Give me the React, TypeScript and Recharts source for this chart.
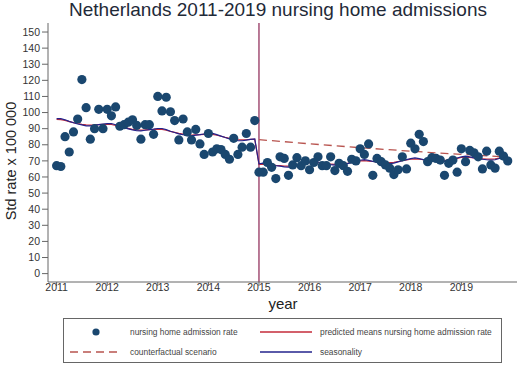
import { ComposedChart, Scatter, Line, XAxis, YAxis, ReferenceLine } from "recharts";

const FONT = '"Liberation Sans", Arial, Helvetica, sans-serif';

const YEAR_TICKS = [2011, 2012, 2013, 2014, 2015, 2016, 2017, 2018, 2019];
const RATE_TICKS = [0, 10, 20, 30, 40, 50, 60, 70, 80, 90, 100, 110, 120, 130, 140, 150];

// monthly, Jan 2011 .. Dec 2019
const admissionRate = [
  67, 66.5, 85, 75.5, 88, 96, 120.5, 103, 83.5, 90, 102, 90,
  102, 98, 103.5, 91.5, 92.5, 94, 95.5, 92, 83.5, 92.5, 92.5, 86.5,
  110, 101, 109.5, 100.5, 95, 83, 96, 88, 83, 89.5, 80.5, 74,
  87, 75.5, 77.5, 77, 74, 71, 84, 74, 78.5, 87, 78.5, 95,
  63, 63, 69, 66, 59, 72.5, 71.5, 61, 67.5, 72, 67, 70,
  64.5, 69, 72.5, 67, 67, 72.5, 64, 68.5, 67, 63.5, 71, 70,
  77.5, 74, 80.5, 61, 71.5, 69.5, 67.5, 65.5, 61.5, 64.5, 72.5, 65,
  81, 77.5, 86.5, 82, 69.5, 72, 71.5, 70.5, 61, 68.5, 70.5, 63,
  77.5, 69.5, 76.5, 75, 72.5, 65, 76, 67.5, 65.5, 76, 73, 70,
];

const predictedMeans = [
  95.8, 95.6, 95.1, 94.4, 93.8, 93.2, 92.7, 92.3, 92.2, 92.3, 92.5, 92.6,
  92.7, 92.6, 92.0, 91.4, 90.7, 90.2, 89.6, 89.3, 89.1, 89.2, 89.4, 89.5,
  89.7, 89.5, 89.0, 88.3, 87.7, 87.1, 86.6, 86.2, 86.0, 86.2, 86.3, 86.5,
  86.6, 86.5, 85.9, 85.3, 84.6, 84.0, 83.5, 83.1, 83.0, 83.1, 83.3, 83.4,
  67.8, 68.0, 67.8, 67.5, 67.2, 67.0, 66.7, 66.7, 66.9, 67.4, 67.9, 68.4,
  68.9, 69.1, 68.9, 68.6, 68.2, 68.0, 67.8, 67.8, 68.0, 68.5, 69.0, 69.5,
  70.0, 70.2, 69.9, 69.6, 69.3, 69.1, 68.9, 68.9, 69.1, 69.6, 70.1, 70.6,
  71.0, 71.2, 71.0, 70.7, 70.4, 70.2, 70.0, 70.0, 70.2, 70.7, 71.1, 71.6,
  72.1, 72.3, 72.1, 71.8, 71.5, 71.3, 71.1, 71.1, 71.2, 71.7, 72.2, 72.7,
];

const seasonality = [
  96.2, 96.2, 95.5, 94.5, 93.7, 92.9, 92.3, 91.7, 91.7, 92.1, 92.5, 92.8,
  93.1, 93.2, 92.4, 91.5, 90.6, 89.9, 89.2, 88.7, 88.6, 89.0, 89.4, 89.7,
  90.1, 90.1, 89.4, 88.4, 87.6, 86.8, 86.2, 85.6, 85.5, 86.0, 86.3, 86.7,
  87.0, 87.1, 86.3, 85.4, 84.5, 83.7, 83.1, 82.5, 82.5, 82.9, 83.3, 83.6,
  68.2, 68.6, 68.2, 67.6, 67.1, 66.7, 66.3, 66.1, 66.4, 67.2, 67.9, 68.6,
  69.3, 69.7, 69.3, 68.7, 68.1, 67.7, 67.4, 67.2, 67.5, 68.3, 69.0, 69.7,
  70.4, 70.8, 70.3, 69.7, 69.2, 68.8, 68.5, 68.3, 68.6, 69.4, 70.1, 70.8,
  71.4, 71.8, 71.4, 70.8, 70.3, 69.9, 69.6, 69.4, 69.7, 70.5, 71.1, 71.8,
  72.5, 72.9, 72.5, 71.9, 71.4, 71.0, 70.7, 70.5, 70.7, 71.5, 72.2, 72.9,
];

// counterfactual read at a few months (index from Jan 2011)
const counterfactualMonths = [48, 60, 72, 84, 96, 107];
const counterfactualValues = [83.2, 80.6, 78.2, 76.0, 74.0, 72.4];

const data = admissionRate.map((rate, i) => {
  const k = counterfactualMonths.indexOf(i);
  return {
    t: 2011 + i / 12,
    rate,
    predicted: predictedMeans[i],
    season: seasonality[i],
    counterfactual: k >= 0 ? counterfactualValues[k] : null,
  };
});

const DOT = "#1a476f";
const RED = "#c42b3a";
const BLUE = "#23238c";
const DASH = "#b8544f";

const Dot = (props: any) => <circle cx={props.cx} cy={props.cy} r={4.6} fill={DOT} />;

const tickStyle = { fontSize: 10.5, fill: "#333", fontFamily: FONT };

export default function App() {
  return (
    <div style={{ position: "absolute", left: 0, top: 0, width: 520, height: 365, background: "#fff", fontFamily: FONT }}>
      <ComposedChart width={520} height={365} data={data} margin={{ top: 23, right: 3, bottom: 53, left: 0 }}>
        <XAxis
          type="number"
          dataKey="t"
          domain={[2010.83, 2020.1]}
          ticks={YEAR_TICKS}
          interval={0}
          allowDataOverflow
          tick={tickStyle}
          tickSize={4}
          tickMargin={-2}
          stroke="#666"
          height={30}
        />
        <YAxis
          type="number"
          domain={[-5.2, 155.6]}
          ticks={RATE_TICKS}
          interval={0}
          allowDataOverflow
          tick={tickStyle}
          tickSize={6}
          tickMargin={2}
          stroke="#666"
          width={48}
        />
        <ReferenceLine x={2015} stroke="#8b2252" strokeWidth={1.2} />
        <Scatter dataKey="rate" shape={Dot} isAnimationActive={false} />
        <Line
          dataKey="counterfactual"
          type="linear"
          stroke={DASH}
          strokeWidth={1.3}
          strokeDasharray="8 5"
          dot={false}
          connectNulls
          isAnimationActive={false}
        />
        <Line dataKey="predicted" type="linear" stroke={RED} strokeWidth={1.2} dot={false} isAnimationActive={false} />
        <Line dataKey="season" type="linear" stroke={BLUE} strokeWidth={1.2} dot={false} isAnimationActive={false} />
      </ComposedChart>

      <svg width={520} height={365} style={{ position: "absolute", left: 0, top: 0, pointerEvents: "none" }}>
        <text x={278} y={16} textAnchor="middle" fontSize={19} fill="#1f2a38" fontFamily={FONT}>
          Netherlands 2011-2019 nursing home admissions
        </text>
        <text
          x={0}
          y={0}
          transform="translate(16,161) rotate(-90)"
          textAnchor="middle"
          fontSize={14.5}
          fill="#222"
          fontFamily={FONT}
        >
          Std rate x 100 000
        </text>
        <text x={283} y={309} textAnchor="middle" fontSize={15} fill="#222" fontFamily={FONT}>
          year
        </text>

        <rect x={63.5} y={318.5} width={438} height={44} fill="none" stroke="#666" strokeWidth={1} />
        <circle cx={96} cy={332} r={3.6} fill={DOT} />
        <text x={130} y={335} fontSize={8.4} fill="#444" fontFamily={FONT}>
          nursing home admission rate
        </text>
        <line x1={260} y1={332} x2={312} y2={332} stroke={RED} strokeWidth={1.3} />
        <text x={320} y={335} fontSize={8.4} fill="#444" fontFamily={FONT}>
          predicted means nursing home admission rate
        </text>
        <line x1={70} y1={352} x2={122} y2={352} stroke={DASH} strokeWidth={1.3} strokeDasharray="8 5" />
        <text x={130} y={355} fontSize={8.4} fill="#444" fontFamily={FONT}>
          counterfactual scenario
        </text>
        <line x1={260} y1={352} x2={312} y2={352} stroke={BLUE} strokeWidth={1.3} />
        <text x={320} y={355} fontSize={8.4} fill="#444" fontFamily={FONT}>
          seasonality
        </text>
      </svg>
    </div>
  );
}
